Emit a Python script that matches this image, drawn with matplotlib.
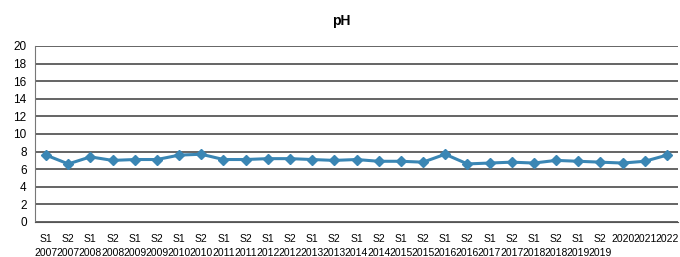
import matplotlib.pyplot as plt

plt.rcParams['font.family'] = ['Liberation Sans', 'DejaVu Sans']

# semester labels and pH values
semesters = ['S1', 'S2'] * 13 + ['', '', '']
years = [str(y) for y in range(2007, 2020) for _ in range(2)] + ['2020', '2021', '2022']
ph = [7.6, 6.6, 7.4, 7.0, 7.1, 7.1, 7.6, 7.7, 7.1, 7.1,
      7.2, 7.2, 7.1, 7.0, 7.1, 6.9, 6.9, 6.8, 7.7, 6.6,
      6.7, 6.8, 6.7, 7.0, 6.9, 6.8, 6.7, 6.9, 7.6]

labels = []
for s, y in zip(semesters, years):
    labels.append(f"{s}\n{y}" if s else y)

fig = plt.figure(figsize=(6.8, 2.57), dpi=100)
ax = fig.add_axes([35 / 680, 35 / 257, 643 / 680, 176 / 257])

x = list(range(len(ph)))
ax.plot(x, ph, color='#3a86b4', lw=2.2, marker='D', ms=5, zorder=3)

ax.set_ylim(0, 20)
ax.set_yticks(range(0, 21, 2))
ax.set_xlim(-0.5, len(ph) - 0.5)
ax.set_xticks(x)
ax.set_xticklabels(labels, fontsize=7.5, linespacing=1.45)
ax.tick_params(axis='y', labelsize=8.5, length=0, pad=6)
ax.tick_params(axis='x', length=0, pad=9)
ax.grid(axis='y', color='#4a4a4a', lw=1.2)
ax.set_axisbelow(True)
for side in ['top', 'right']:
    ax.spines[side].set_visible(False)
ax.spines['left'].set_color('#777777')
ax.spines['bottom'].set_color('#555555')

fig.text(0.5015, 0.92, 'pH', ha='center', va='center', fontsize=10, fontweight='bold')

fig.savefig('out.png', dpi=100)
